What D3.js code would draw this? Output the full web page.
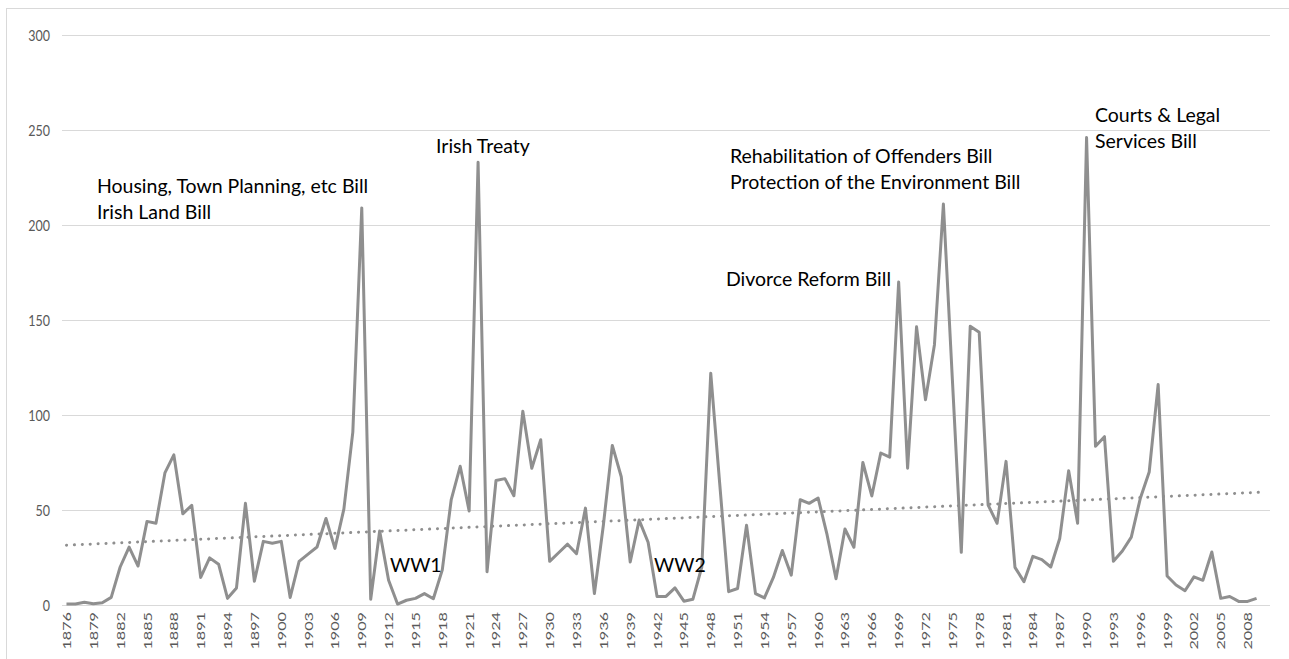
<!DOCTYPE html>
<html>
<head>
<meta charset="utf-8">
<script src="https://cdn.jsdelivr.net/npm/d3@7/dist/d3.min.js"></script>
<style>
  html, body { margin: 0; padding: 0; background: #fff; }
  svg { display: block; }
</style>
</head>
<body>
<svg id="chart" width="1289" height="659"></svg>
<script>
// ---- data ----
const startYear = 1876;
const endYear = 2010; // last category on the axis (no value)
const values = [
  0.5, 0.5, 1.4, 0.7, 1.2, 4, 20, 30.5, 20.5, 44,          // 1876-1885
  43, 69.5, 79, 48, 52.5, 14.5, 24.8, 21.5, 3.5, 9,        // 1886-1895
  53.5, 12.5, 33.5, 32.5, 33.5, 4, 23, 26.8, 30.5, 45.5,   // 1896-1905
  29.8, 50.5, 91, 209, 3, 39, 13, 0.5, 2.5, 3.5,           // 1906-1915
  6, 3.3, 18.5, 55.5, 73, 49.5, 233, 17.5, 65.5, 66.5,     // 1916-1925
  57.5, 102, 72, 87, 23, 27.5, 32, 27, 51, 6,              // 1926-1935
  42, 84, 67.5, 22.6, 44.7, 33, 4.5, 4.5, 9, 2,            // 1936-1945
  3, 20, 122, 64, 7, 8.7, 42, 6, 3.7, 14.5,                // 1946-1955
  28.7, 15.7, 55.4, 53.5, 56.3, 37, 13.8, 40, 30.4, 75,    // 1956-1965
  57.4, 80, 77.8, 170, 72, 146.4, 108, 137, 211, 119,      // 1966-1975
  27.7, 146.7, 143.5, 52.6, 43, 75.6, 19.8, 12.3, 25.6, 23.9, // 1976-1985
  20, 35, 70.7, 43, 246, 83.5, 88.6, 23, 28.4, 35.7,       // 1986-1995
  56, 70, 116, 15.3, 10.5, 7.5, 14.8, 13, 27.9, 3.5,       // 1996-2005
  4.5, 1.9, 1.9, 3.5                                       // 2006-2009
];
const yTicks = [0, 50, 100, 150, 200, 250, 300];
const annotationText = [
  ["Housing, Town Planning, etc Bill", "Irish Land Bill"],
  ["Irish Treaty"],
  ["Rehabilitation of Offenders Bill", "Protection of the Environment Bill"],
  ["Divorce Reform Bill"],
  ["Courts & Legal", "Services Bill"],
  ["WW1"],
  ["WW2"]
];
const annotationYear = [1879.4, 1917.3, 1950.15, 1949.7, 1990.94, 1912.15, 1941.66];
const annotationValue = [216.8, 237.9, 232.6, 167.9, 254.2, 17.4, 17.4];

// ---- build ----
const years = d3.range(startYear, endYear + 1);
const series = values.map((v, i) => ({ year: startYear + i, value: v }));
const tickYears = years.filter(y => (y - startYear) % 3 === 0);

const svg = d3.select("#chart");
const W = 1289, H = 659;
const plot = { left: 62, right: 1270, top: 35, bottom: 605 };

const x = d3.scalePoint().domain(years).range([plot.left, plot.right]).padding(0.5);
const y = d3.scaleLinear().domain([0, 300]).range([plot.bottom, plot.top]);
const xCont = d3.scaleLinear().domain([startYear, endYear]).range([x(startYear), x(endYear)]);

// outer border
svg.append("rect")
  .attr("x", 6.5).attr("y", 8.5).attr("width", W).attr("height", H)
  .attr("fill", "none").attr("stroke", "#d9d9d9").attr("stroke-width", 1);

// gridlines + y labels
const yAxis = d3.axisLeft(y).tickValues(yTicks).tickSize(-(plot.right - plot.left)).tickPadding(12);
const gy = svg.append("g").attr("transform", `translate(${plot.left},0)`).call(yAxis);
gy.select(".domain").remove();
gy.selectAll(".tick line").attr("stroke", "#d9d9d9").attr("stroke-width", 1);
gy.selectAll(".tick text")
  .attr("fill", "#595959")
  .style("font-family", "Lato, 'Liberation Sans', sans-serif")
  .style("font-size", "12.5px")
  .attr("transform", "scale(1,1.2)")
  .attr("y", function() { return 0; })
  .each(function() {
    const t = d3.select(this);
    t.attr("transform", "scale(1,1.2)");
  });
// fix vertical position after scaling: scale about the tick origin
gy.selectAll(".tick text").attr("transform", null).attr("dy", "0.36em")
  .attr("transform", "translate(0,0) scale(1,1.2)");

// x labels
const xAxis = d3.axisBottom(x).tickValues(tickYears).tickSize(0).tickPadding(0);
const gx = svg.append("g").attr("transform", `translate(0,${plot.bottom})`).call(xAxis);
gx.select(".domain").remove();
gx.selectAll(".tick text")
  .attr("fill", "#595959")
  .style("font-family", "Lato, 'Liberation Sans', sans-serif")
  .style("font-size", "12px")
  .attr("text-anchor", "end")
  .attr("dy", null)
  .attr("y", 0)
  .attr("transform", "translate(4,7) rotate(-90) scale(1.35,1)");

// main line
const line = d3.line()
  .x(d => x(d.year))
  .y(d => y(d.value));
svg.append("path")
  .datum(series)
  .attr("fill", "none")
  .attr("stroke", "#8f8f8f")
  .attr("stroke-width", 3)
  .attr("stroke-linejoin", "round")
  .attr("d", line);

// linear trendline (least squares over the plotted values)
const xs = series.map((d, i) => i + 1);
const ys = series.map(d => d.value);
const mx = d3.mean(xs), my = d3.mean(ys);
const slope = d3.sum(xs.map((xi, i) => (xi - mx) * (ys[i] - my))) / d3.sum(xs.map(xi => (xi - mx) ** 2));
const intercept = my - slope * mx;
const trend = years.map((yr, i) => ({ year: yr, value: intercept + slope * (i + 1) }));
svg.append("path")
  .datum(trend)
  .attr("fill", "none")
  .attr("stroke", "#8f8f8f")
  .attr("stroke-width", 3)
  .attr("stroke-linecap", "round")
  .attr("stroke-dasharray", "0.1 7.8")
  .attr("d", line);

// annotations
const ann = svg.append("g")
  .style("font-family", "Lato, 'Liberation Sans', sans-serif")
  .style("font-size", "19.5px")
  .attr("fill", "#000");
annotationText.forEach((lines, i) => {
  const ax = xCont(annotationYear[i]);
  const t = ann.append("text")
    .attr("x", ax)
    .attr("y", y(annotationValue[i]));
  lines.forEach((l, j) => {
    t.append("tspan")
      .attr("x", ax)
      .attr("dy", j === 0 ? 0 : 26)
      .text(l);
  });
});
</script>
</body>
</html>
